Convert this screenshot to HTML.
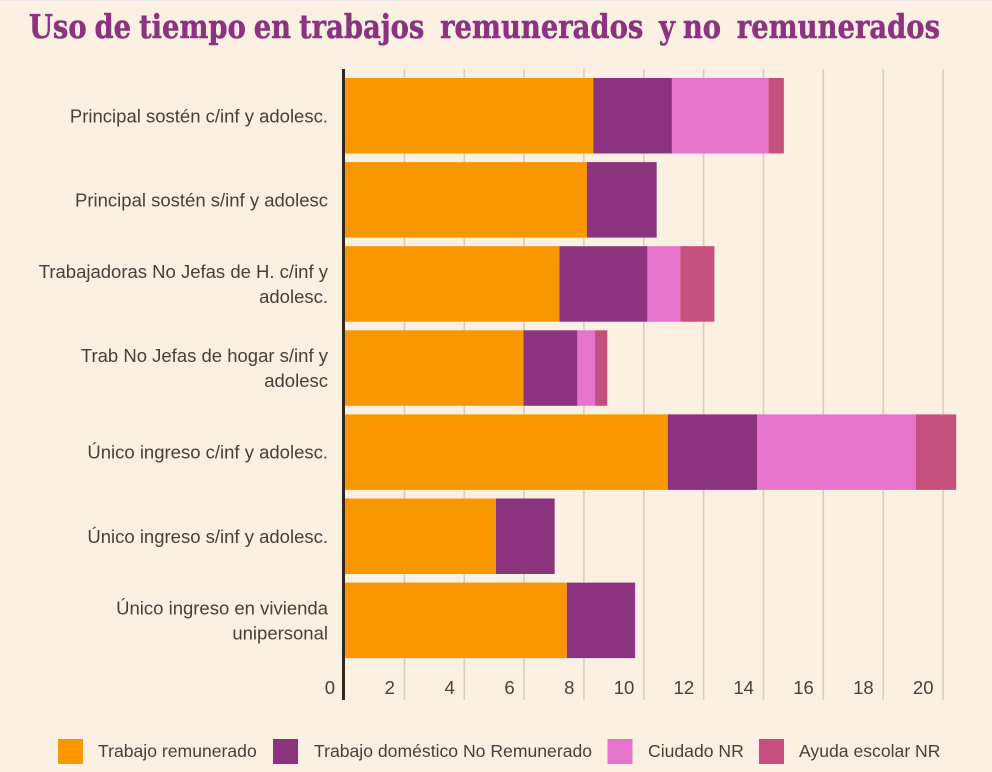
<!DOCTYPE html>
<html lang="es">
<head>
<meta charset="utf-8">
<title>Uso de tiempo en trabajos remunerados y no remunerados</title>
<style>
html,body{margin:0;padding:0;width:992px;height:772px;overflow:hidden;background:#fcf0e3}
svg{display:block}
text{font-family:"Liberation Sans","DejaVu Sans",sans-serif;fill:#4a3f36;font-size:18.5px}
#legend text{font-size:17.6px}
#chart-title{font-family:"DejaVu Serif","Liberation Serif",serif;font-weight:bold;font-size:33px;fill:#8c337f;stroke:#8c337f;stroke-width:0.5px;white-space:pre;word-spacing:-2px}
</style>
</head>
<body>
<svg id="chart" width="992" height="772" viewBox="0 0 992 772" xmlns="http://www.w3.org/2000/svg">
  <rect x="0" y="0" width="992" height="772" fill="#fcf0e3"/>
  <rect x="0" y="0" width="992" height="1" fill="#e8eaec"/>
  <text id="chart-title" x="29" y="38" textLength="911" lengthAdjust="spacingAndGlyphs" xml:space="preserve">Uso de tiempo en trabajos  remunerados  y no  remunerados</text>
  <g id="grid"></g>
  <g id="bars"></g>
  <g id="axis"></g>
  <g id="cats"></g>
  <g id="legend">
    <g>
      <rect x="58" y="739" width="25" height="25" fill="#f99700"/>
      <text x="98" y="757">Trabajo remunerado</text>
    </g>
    <g>
      <rect x="273" y="739" width="25" height="25" fill="#8c337f"/>
      <text x="314" y="757">Trabajo doméstico No Remunerado</text>
    </g>
    <g>
      <rect x="607.5" y="739" width="25" height="25" fill="#e674cd"/>
      <text x="648" y="757">Ciudado NR</text>
    </g>
    <g>
      <rect x="759" y="739" width="25" height="25" fill="#c6507d"/>
      <text x="799" y="757">Ayuda escolar NR</text>
    </g>
  </g>
</svg>
<script>
const categories = [
  "Principal sostén c/inf y adolesc.",
  "Principal sostén s/inf y adolesc",
  "Trabajadoras No Jefas de H. c/inf y|adolesc.",
  "Trab No Jefas de hogar s/inf y|adolesc",
  "Único ingreso c/inf y adolesc.",
  "Único ingreso s/inf y adolesc.",
  "Único ingreso en vivienda|unipersonal"
];
const trabajoRemunerado = [8.31, 8.10, 7.18, 5.98, 10.80, 5.06, 7.43];
const trabajoDomestico = [2.63, 2.33, 2.94, 1.80, 2.99, 1.96, 2.28];
const cuidado = [3.23, 0, 1.10, 0.59, 5.30, 0, 0];
const ayudaEscolar = [0.51, 0, 1.14, 0.41, 1.35, 0, 0];
const tickValues = [0, 2, 4, 6, 8, 10, 12, 14, 16, 18, 20];

const NS = "http://www.w3.org/2000/svg";
const xOrigin = 344.6, xPerUnit = 29.92;
const bandStart = 78, bandStep = 84.1, barHeight = 75.5;
const plotTop = 69, plotBottom = 700;
const seriesList = [
  { key: "trabajo-remunerado", values: trabajoRemunerado, color: "#f99700" },
  { key: "trabajo-domestico", values: trabajoDomestico, color: "#8c337f" },
  { key: "cuidado", values: cuidado, color: "#e674cd" },
  { key: "ayuda-escolar", values: ayudaEscolar, color: "#c6507d" }
];
function xScale(v) { return xOrigin + v * xPerUnit; }
function yBand(i) { return bandStart + i * bandStep; }
function make(tag, attrs, parent) {
  const el = document.createElementNS(NS, tag);
  for (const k in attrs) el.setAttribute(k, attrs[k]);
  parent.appendChild(el);
  return el;
}

const grid = document.getElementById("grid");
const axis = document.getElementById("axis");
tickValues.forEach(function (t) {
  if (t !== 0) {
    const line = make("line", { x1: xScale(t), x2: xScale(t), y1: plotTop, y2: plotBottom, stroke: "#dacdbd", "stroke-width": 1.6 }, grid);
    
    
  }
  const label = make("text", { x: xScale(t) - 9.5, y: 694, "text-anchor": "end" }, axis);
  label.textContent = String(t);
  
  
});
const axisLine = make("line", { x1: xScale(0) - 1.1, x2: xScale(0) - 1.1, y1: plotTop, y2: plotBottom, stroke: "#33261a", "stroke-width": 3 }, axis);



const bars = document.getElementById("bars");
categories.forEach(function (cat, i) {
  let running = 0;
  seriesList.forEach(function (s) {
    const v = s.values[i];
    if (v > 0) {
      const r = make("rect", { x: xScale(running), y: yBand(i), width: v * xPerUnit, height: barHeight, fill: s.color }, bars);
      
      
    }
    running += v;
  });
});

const cats = document.getElementById("cats");
categories.forEach(function (cat, i) {
  const lines = cat.split("|");
  const mid = yBand(i) + barHeight / 2;
  lines.forEach(function (ln, j) {
    const offset = (j - (lines.length - 1) / 2) * 25;
    const t = make("text", { x: 328, y: mid + offset + 6.5, "text-anchor": "end" }, cats);
    t.textContent = ln;
    
    
  });
});
</script>
</body>
</html>
